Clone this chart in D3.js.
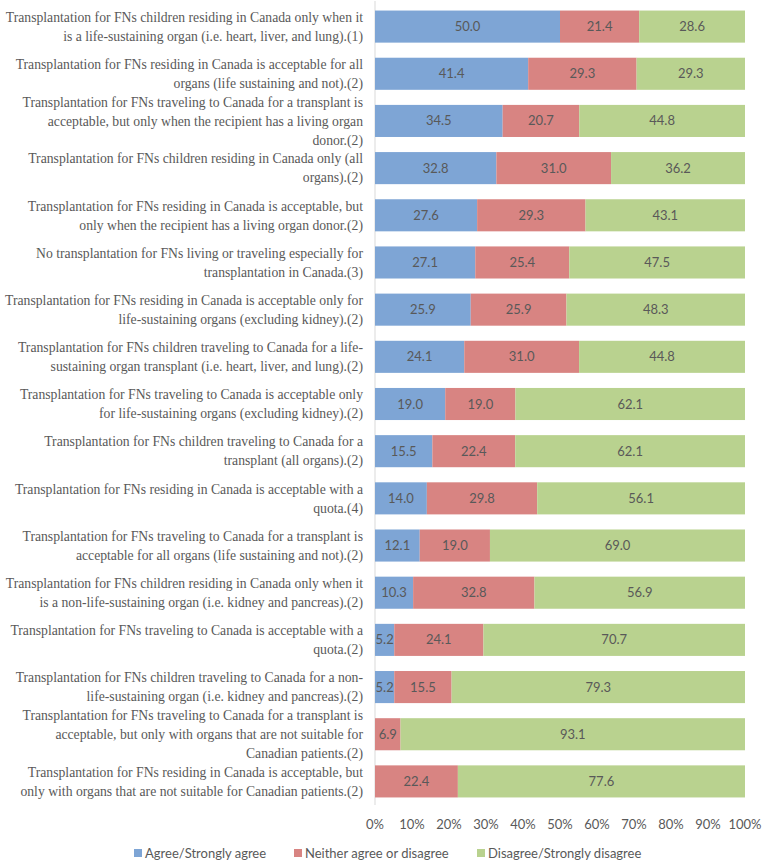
<!DOCTYPE html>
<html><head><meta charset="utf-8">
<script src="https://cdn.jsdelivr.net/npm/d3@7"></script>
<style>
html,body{margin:0;padding:0;background:#fff;}
svg{display:block;}
</style></head>
<body>
<svg id="chart" width="763" height="863"></svg>
<script>
const categories = [
  ["Transplantation for FNs children residing in Canada only when it","is a life-sustaining organ (i.e. heart, liver, and lung).(1)"],
  ["Transplantation for FNs residing in Canada is acceptable for all","organs (life sustaining and not).(2)"],
  ["Transplantation for FNs traveling to Canada for a transplant is","acceptable, but only when the recipient has a living organ","donor.(2)"],
  ["Transplantation for FNs children residing in Canada only (all","organs).(2)"],
  ["Transplantation for FNs residing in Canada is acceptable, but","only when the recipient has a living organ donor.(2)"],
  ["No transplantation for FNs living or traveling especially for","transplantation in Canada.(3)"],
  ["Transplantation for FNs residing in Canada is acceptable only for","life-sustaining organs (excluding kidney).(2)"],
  ["Transplantation for FNs children traveling to Canada for a life-","sustaining organ transplant (i.e. heart, liver, and lung).(2)"],
  ["Transplantation for FNs traveling to Canada is acceptable only","for life-sustaining organs (excluding kidney).(2)"],
  ["Transplantation for FNs children traveling to Canada for a","transplant (all organs).(2)"],
  ["Transplantation for FNs residing in Canada is acceptable with a","quota.(4)"],
  ["Transplantation for FNs traveling to Canada for a transplant is","acceptable for all organs (life sustaining and not).(2)"],
  ["Transplantation for FNs children residing in Canada only when it","is a non-life-sustaining organ (i.e. kidney and pancreas).(2)"],
  ["Transplantation for FNs traveling to Canada is acceptable with a","quota.(2)"],
  ["Transplantation for FNs children traveling to Canada for a non-","life-sustaining organ (i.e. kidney and pancreas).(2)"],
  ["Transplantation for FNs traveling to Canada for a transplant is","acceptable, but only with organs that are not suitable for","Canadian patients.(2)"],
  ["Transplantation for FNs residing in Canada is acceptable, but","only with organs that are not suitable for Canadian patients.(2)"]
];
const agree    = [50.0,41.4,34.5,32.8,27.6,27.1,25.9,24.1,19.0,15.5,14.0,12.1,10.3,5.2,5.2,0,0];
const neither  = [21.4,29.3,20.7,31.0,29.3,25.4,25.9,31.0,19.0,22.4,29.8,19.0,32.8,24.1,15.5,6.9,22.4];
const disagree = [28.6,29.3,44.8,36.2,43.1,47.5,48.3,44.8,62.1,62.1,56.1,69.0,56.9,70.7,79.3,93.1,77.6];
const seriesNames = ["Agree/Strongly agree","Neither agree or disagree","Disagree/Strongly disagree"];
const tickValues = [0,0.1,0.2,0.3,0.4,0.5,0.6,0.7,0.8,0.9,1.0];

const colors = ["#7ea5d5","#d88482","#b9d28f"];
const keys = ["agree","neither","disagree"];
const rows = categories.map((c,i)=>({idx:i, agree:agree[i], neither:neither[i], disagree:disagree[i]}));
const stacked = d3.stack().keys(keys).offset(d3.stackOffsetExpand)(rows);

const svg = d3.select("#chart");
const x = d3.scaleLinear().domain([0,1]).range([375,745]);
const y = d3.scaleBand().domain(d3.range(categories.length)).range([3,805]).paddingInner(0.32).paddingOuter(0.16);

// axis line
svg.append("line").attr("x1",x(0)).attr("x2",x(0)).attr("y1",1).attr("y2",805)
  .attr("stroke","#d9d9d9").attr("stroke-width",1);

// bars
const g = svg.append("g");
stacked.forEach((s,si)=>{
  g.selectAll(null).data(s).enter().append("rect")
    .attr("x",d=>x(d[0])).attr("width",d=>Math.max(0,x(d[1])-x(d[0])))
    .attr("y",(d,i)=>y(i)).attr("height",y.bandwidth())
    .attr("fill",colors[si]);
  g.selectAll(null).data(s.filter(d=>d.data[keys[si]]>0)).enter().append("text")
    .attr("x",d=>(x(d[0])+x(d[1]))/2)
    .attr("y",d=>y(d.data.idx)+y.bandwidth()/2)
    .attr("dy","0.35em").attr("text-anchor","middle")
    .attr("font-family","Lato, 'Open Sans', sans-serif").attr("font-size",13)
    .attr("fill","#595959")
    .text(d=>d.data[keys[si]].toFixed(1));
});

// category labels
const lh = 19;
categories.forEach((lines,i)=>{
  const cy = y(i)+y.bandwidth()/2;
  const t = svg.append("text").attr("text-anchor","end")
    .attr("font-family","'Liberation Serif','Times New Roman',serif").attr("font-size",13.7)
    .attr("fill","#595959");
  lines.forEach((ln,j)=>{
    t.append("tspan").attr("x",363).attr("y",cy+(j-(lines.length-1)/2)*lh).attr("dy","0.35em").text(ln);
  });
});

// x axis tick labels
svg.append("g").selectAll("text").data(tickValues).enter().append("text")
  .attr("x",d=>x(d)).attr("y",824).attr("dy","0.35em").attr("text-anchor","middle")
  .attr("font-family","Lato, 'Open Sans', sans-serif").attr("font-size",13)
  .attr("fill","#595959").text(d=>d3.format(".0%")(d));

// legend
const legX = [134,294,477];
const lg = svg.append("g");
seriesNames.forEach((n,i)=>{
  lg.append("rect").attr("x",legX[i]).attr("y",849).attr("width",8).attr("height",8).attr("fill",colors[i]);
  lg.append("text").attr("x",legX[i]+11).attr("y",853).attr("dy","0.35em")
    .attr("font-family","Lato, 'Open Sans', sans-serif").attr("font-size",13)
    .attr("fill","#595959").text(n);
});
</script>
</body></html>
